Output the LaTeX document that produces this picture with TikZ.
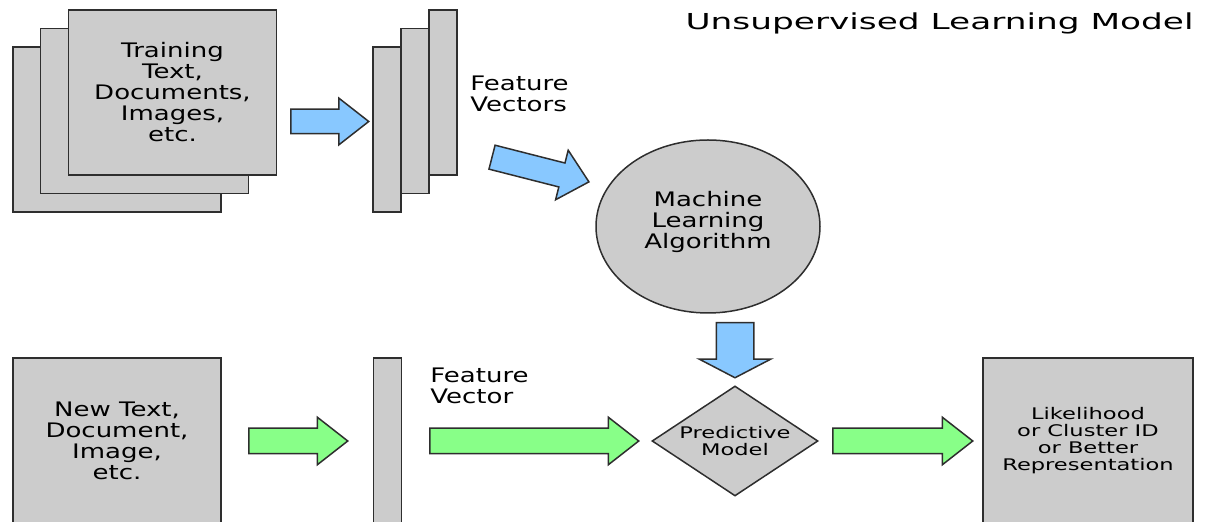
\documentclass[tikz,border=0pt]{standalone}
\usepackage{fontspec}
\setmainfont[FakeStretch=1.3]{DejaVu Sans}
\newfontfamily\titlefont[FakeStretch=1.56]{DejaVu Sans}
\newfontfamily\smallfont[FakeStretch=1.41]{DejaVu Sans}
\usetikzlibrary{shapes.geometric,shapes.arrows}
\definecolor{boxgray}{HTML}{CCCCCC}
\definecolor{edgegray}{HTML}{2E2E2E}
\definecolor{arrowblue}{HTML}{88C8FF}
\definecolor{arrowgreen}{HTML}{88FF88}
\tikzset{
  page/.style={draw=edgegray, fill=boxgray, line width=0.75pt, inner sep=0pt,
    minimum width=104pt, minimum height=82.5pt, align=center,
    font=\fontsize{10}{10.5}\selectfont},
  bar/.style={page, minimum width=14pt},
  label/.style={anchor=north west, inner sep=0pt, align=left,
    font=\fontsize{10}{10.5}\selectfont},
  fat/.style={single arrow, draw=edgegray, line width=0.75pt, anchor=tail,
    inner xsep=0pt, inner ysep=6pt, single arrow head extend=5.5pt,
    single arrow tip angle=76, single arrow head indent=0pt},
  bluefat/.style={fat, fill=arrowblue},
  greenfat/.style={fat, fill=arrowgreen},
}

\begin{document}
\begin{tikzpicture}[x=0.5pt,y=-0.5pt]
\useasboundingbox (0,0) rectangle (1212,522);

\node[anchor=north east, inner sep=0pt, font=\titlefont\fontsize{11}{13}\selectfont] (title) at (1194,12) {Unsupervised Learning Model};

% training data and feature vectors
\node[page] (train3) at (117,129.5) {};
\node[page] (train2) at (144.5,111) {};
\node[page] (train1) at (172.5,92.5) {Training\\Text,\\Documents,\\Images,\\etc.};

\node[bar] (vec3) at (387,129.5) {};
\node[bar] (vec2) at (415,111) {};
\node[bar] (vec1) at (443,92.5) {};
\node[label] (veclabel) at (470,76) {Feature\\Vectors};

\node[bluefat, minimum height=39pt, inner ysep=5.75pt] (toVec) at (290,121.5) {};
\node[bluefat, minimum height=50pt, inner ysep=5.8pt, single arrow head extend=6.6pt,
  single arrow tip angle=85, rotate=-14.3] (toAlgo) at (491.3,157) {};

\node[ellipse, draw=edgegray, fill=boxgray, line width=0.75pt, inner sep=0pt,
  minimum width=112pt, minimum height=86.5pt, align=center,
  font=\fontsize{10}{10.5}\selectfont] (algo) at (708,226.5) {};
\node[align=center, inner sep=0pt, font=\fontsize{10}{10.5}\selectfont] (algotext) at (708,222) {Machine\\Learning\\Algorithm};

\node[bluefat, minimum height=27.5pt, inner ysep=9pt, single arrow head extend=8.5pt,
  single arrow tip angle=125, rotate=-90] (toModel) at (735,322) {};

% new data
\node[page] (newdoc) at (117,440.5) {New Text,\\Document,\\Image,\\etc.};
\node[bar] (newvec) at (387.5,440.5) {};
\node[label] (newlabel) at (430,368) {Feature\\Vector};

\node[diamond, draw=edgegray, fill=boxgray, line width=0.75pt, inner sep=0pt,
  aspect=1.5, minimum width=83pt, minimum height=55pt, align=center,
  font=\smallfont\fontsize{8}{8.5}\selectfont] (model) at (735,441) {Predictive\\Model};

\node[page, minimum width=105pt, font=\smallfont\fontsize{8}{8.5}\selectfont] (result) at (1088,440.5)
  {Likelihood\\or Cluster ID\\or Better\\Representation};

\node[greenfat, minimum height=49.5pt] (toNewVec) at (248,441) {};
\node[greenfat, minimum height=104.5pt] (toModel2) at (429,441) {};
\node[greenfat, minimum height=70pt] (toResult) at (832,441) {};
\end{tikzpicture}
\end{document}
